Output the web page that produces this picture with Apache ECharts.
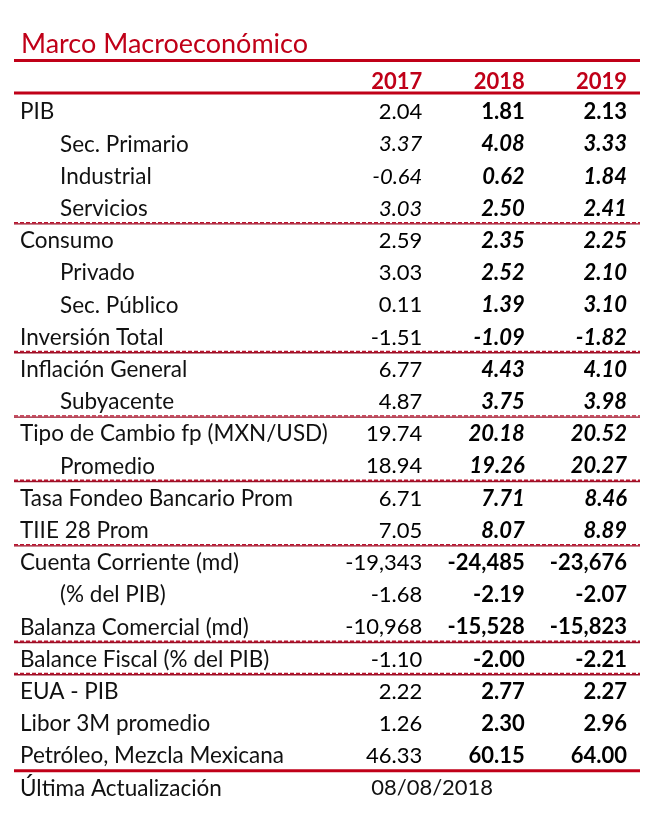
<!DOCTYPE html>
<html>
<head>
<meta charset="utf-8">
<script src="https://cdn.jsdelivr.net/npm/echarts@6/dist/echarts.min.js"></script>
<style>html,body{margin:0;padding:0;background:#fff;}#c{width:655px;height:820px;}</style>
</head>
<body>
<div id="c"></div>
<script>
const titleText = 'Marco Macroeconómico';
const years = ['2017', '2018', '2019'];
const rowLabels = ['PIB','Sec. Primario','Industrial','Servicios','Consumo','Privado','Sec. Público','Inversión Total','Inflación General','Subyacente','Tipo de Cambio fp (MXN/USD)','Promedio','Tasa Fondeo Bancario Prom','TIIE 28 Prom','Cuenta Corriente (md)','(% del PIB)','Balanza Comercial (md)','Balance Fiscal (% del PIB)','EUA - PIB','Libor 3M promedio','Petróleo, Mezcla Mexicana','Última Actualización'];
const indentedRows = [1,2,3,5,6,9,11,15];
const values2017 = [2.04,3.37,-0.64,3.03,2.59,3.03,0.11,-1.51,6.77,4.87,19.74,18.94,6.71,7.05,-19343,-1.68,-10968,-1.10,2.22,1.26,46.33];
const values2018 = [1.81,4.08,0.62,2.50,2.35,2.52,1.39,-1.09,4.43,3.75,20.18,19.26,7.71,8.07,-24485,-2.19,-15528,-2.00,2.77,2.30,60.15];
const values2019 = [2.13,3.33,1.84,2.41,2.25,2.10,3.10,-1.82,4.10,3.98,20.52,20.27,8.46,8.89,-23676,-2.07,-15823,-2.21,2.27,2.96,64.00];
const wholeNumberRows = [14,16];
const allItalicRows = [1,2,3];
const italicForecastRows = [1,2,3,4,5,6,7,8,9,10,11,12,13];
const dashedAfterRows = [3,7,9,11,13,16,17];
const solidAfterRows = [20];
const updateDate = '08/08/2018';

const RED = '#C00018';
const FONT = 'Lato';
const FS = 22;
const LFS = 22.5;

function fmt(v, row) {
  const d = wholeNumberRows.includes(row) ? 0 : 2;
  return v.toLocaleString('en-US', {minimumFractionDigits: d, maximumFractionDigits: d});
}

const cells = [];
[values2017, values2018, values2019].forEach((arr, ci) => {
  arr.forEach((v, ri) => {
    const forecast = ci > 0;
    let italic = false;
    if (allItalicRows.includes(ri)) italic = true;
    if (forecast && italicForecastRows.includes(ri)) italic = true;
    cells.push({ value: [ci + 1, ri], text: fmt(v, ri), bold: forecast, italic: italic });
  });
});

const chart = echarts.init(document.getElementById('c'), null, {renderer: 'canvas'});
const GRID = {left: 320, right: 28, top: 96, height: 708.4};

chart.setOption({
  backgroundColor: '#fff',
  animation: false,
  title: {
    text: titleText, left: 16, top: 26,
    textStyle: {color: RED, fontFamily: FONT, fontWeight: 'normal', fontSize: 27}
  },
  graphic: [
    {type: 'rect', shape: {x: 14, y: 59, width: 626, height: 3}, style: {fill: RED}}
  ],
  grid: GRID,
  xAxis: {
    type: 'value', position: 'top', min: 0, max: 3, interval: 1,
    axisLine: {show: false}, axisTick: {show: false}, splitLine: {show: false},
    axisLabel: {
      formatter: v => years[v - 1] || '',
      color: RED, fontFamily: FONT, fontWeight: 'bold', fontSize: FS,
      align: 'right', margin: 3, showMinLabel: true
    }
  },
  yAxis: {
    type: 'category', inverse: true, data: rowLabels,
    axisLine: {show: false}, axisTick: {show: false}, splitLine: {show: false},
    axisLabel: {
      margin: 300, align: 'left', interval: 0,
      color: '#111', fontFamily: FONT, fontSize: LFS,
      formatter: (v, i) => indentedRows.includes(i) ? '{ind|' + v + '}' : '{main|' + v + '}',
      rich: {
        main: {fontFamily: FONT, fontSize: LFS, color: '#111'},
        ind: {fontFamily: FONT, fontSize: LFS, color: '#111', padding: [0, 0, 0, 40]}
      }
    }
  },
  series: [
    {
      type: 'custom',
      name: 'values',
      data: cells,
      renderItem: (params, api) => {
        const c = cells[params.dataIndex];
        const p = api.coord([api.value(0), api.value(1)]);
        return {
          type: 'text',
          style: {
            x: p[0], y: p[1], text: c.text, align: 'right', verticalAlign: 'middle',
            fontFamily: FONT, fontSize: FS,
            fontWeight: c.bold ? 'bold' : 'normal',
            fontStyle: c.italic ? 'italic' : 'normal',
            fill: '#000'
          }
        };
      }
    },
    {
      type: 'custom',
      name: 'footer',
      data: [[0.5, rowLabels.length - 1]],
      renderItem: (params, api) => {
        const p = api.coord([api.value(0), api.value(1)]);
        return {
          type: 'text',
          style: {x: p[0], y: p[1], text: updateDate, align: 'left', verticalAlign: 'middle',
                  fontFamily: FONT, fontSize: FS, fill: '#111'}
        };
      }
    },
    {
      type: 'custom',
      name: 'dashed',
      data: dashedAfterRows.map(r => [0, r]),
      renderItem: (params, api) => {
        const p = api.coord([0, api.value(1)]);
        const h = api.size([0, 1])[1];
        const y = p[1] + h / 2 - 1.5;
        return {
          type: 'group',
          children: [
            {type: 'line', shape: {x1: 14, y1: y + 0.6, x2: 640, y2: y + 0.6}, style: {stroke: '#9a0f26', lineWidth: 1.4}},
            {type: 'line', shape: {x1: 14, y1: y - 0.6, x2: 640, y2: y - 0.6}, style: {stroke: '#b8142e', lineWidth: 1.4, lineDash: [4, 2]}}
          ]
        };
      }
    },
    {
      type: 'custom',
      name: 'solid',
      data: solidAfterRows.map(r => [0, r]).concat([[0, -1]]),
      renderItem: (params, api) => {
        const r = api.value(1);
        const h = api.size([0, 1])[1];
        let y;
        if (r < 0) {
          y = api.coord([0, 0])[1] - h / 2 - 3;
        } else {
          y = api.coord([0, r])[1] + h / 2 - 1.5;
        }
        return {type: 'rect', shape: {x: 14, y: y - 1.5, width: 626, height: 3}, style: {fill: RED}};
      }
    }
  ]
});
</script>
</body>
</html>
